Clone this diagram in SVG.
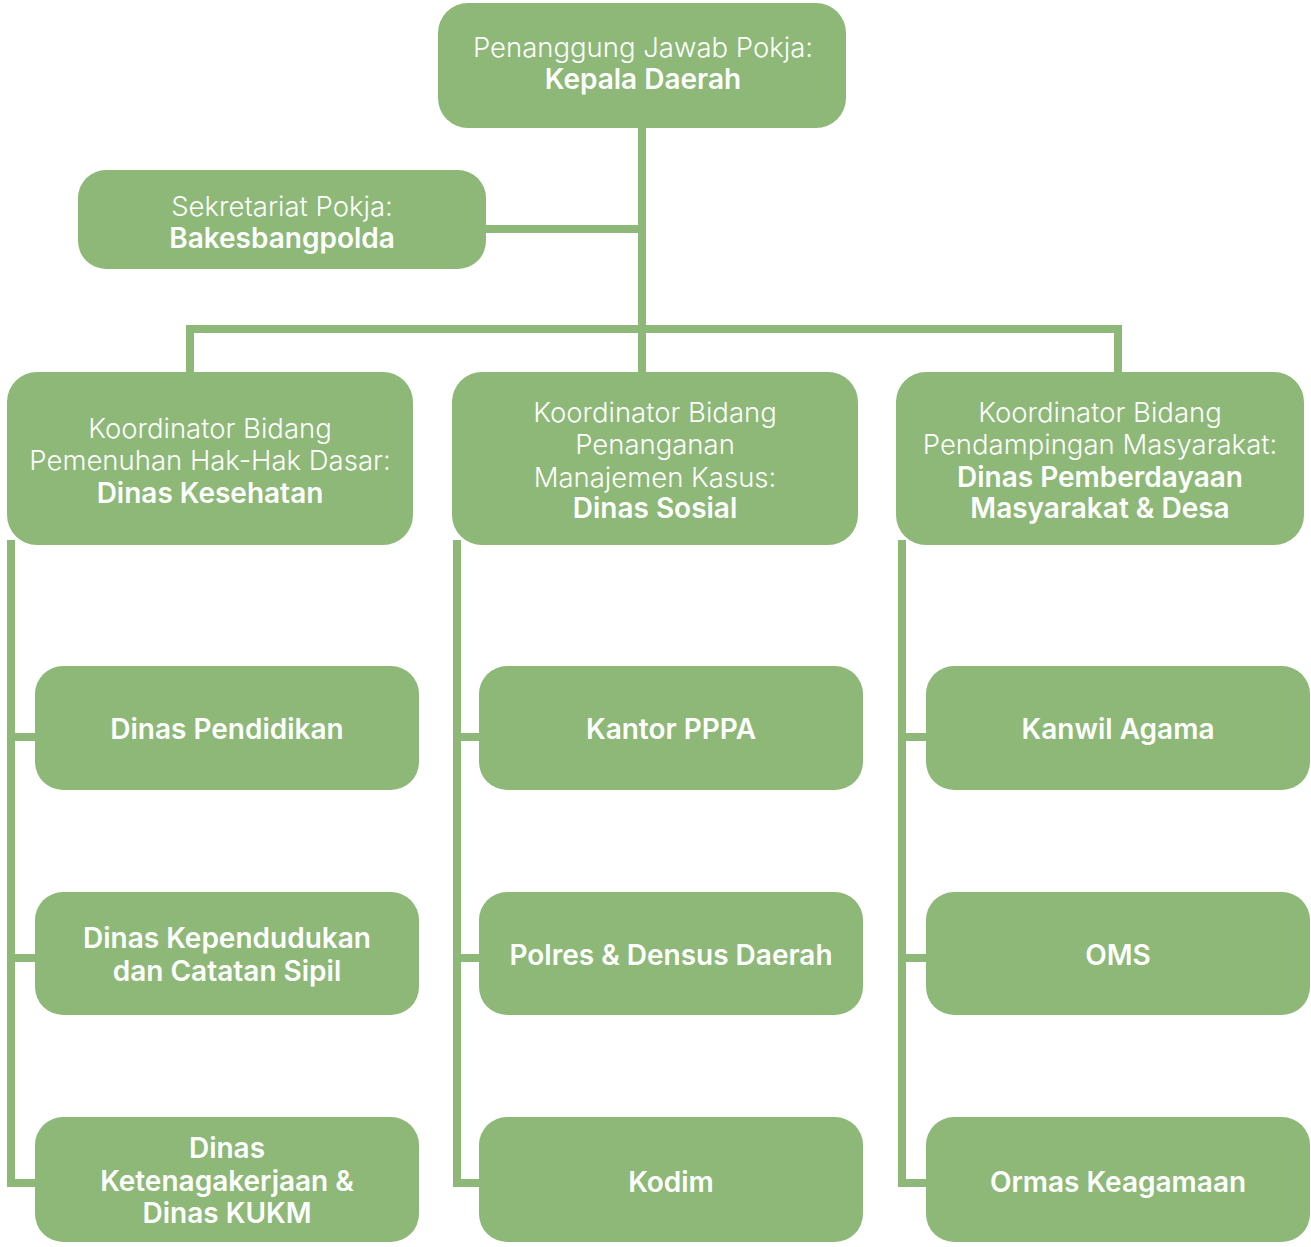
<svg xmlns="http://www.w3.org/2000/svg" width="1311" height="1247" viewBox="0 0 1311 1247">
<style>
.box{fill:#8db878}
.ln{fill:none;stroke:#8db878;stroke-width:8;stroke-linejoin:miter;stroke-linecap:butt}
text{font-family:Inter,"Liberation Sans",sans-serif;fill:#ffffff;text-anchor:middle}
.l{font-weight:300;font-size:27.5px}
.b{font-weight:600;font-size:28px}
</style>
<rect width="1311" height="1247" fill="#ffffff"/>
<g id="connectors">
<path class="ln" d="M642 128 V372"/>
<path class="ln" d="M486 229 H642"/>
<path class="ln" d="M190 372 V329 H1118 V372"/>
<path class="ln" d="M11 540 V1183 H35 M11 737 H35 M11 958 H35"/>
<path class="ln" d="M457 540 V1183 H479 M457 737 H479 M457 958 H479"/>
<path class="ln" d="M902 540 V1183 H926 M902 737 H926 M902 958 H926"/>
</g>
<g id="kepala-daerah">
<rect class="box" x="438" y="3" width="408" height="125" rx="30"/>
<text x="643" y="57" class="l">Penanggung Jawab Pokja:</text>
<text x="643" y="89" class="b">Kepala Daerah</text>
</g>
<g id="sekretariat">
<rect class="box" x="78" y="170" width="408" height="99" rx="28"/>
<text x="282" y="216" class="l">Sekretariat Pokja:</text>
<text x="282" y="248" class="b">Bakesbangpolda</text>
</g>
<g id="koordinator-hak-dasar">
<rect class="box" x="7" y="372" width="406" height="173" rx="30"/>
<text x="210" y="438" class="l">Koordinator Bidang</text>
<text x="210" y="470" class="l">Pemenuhan Hak-Hak Dasar:</text>
<text x="210" y="503" class="b">Dinas Kesehatan</text>
</g>
<g id="koordinator-manajemen-kasus">
<rect class="box" x="452" y="372" width="406" height="173" rx="30"/>
<text x="655" y="422" class="l">Koordinator Bidang</text>
<text x="655" y="454" class="l">Penanganan</text>
<text x="655" y="487" class="l">Manajemen Kasus:</text>
<text x="655" y="518" class="b">Dinas Sosial</text>
</g>
<g id="koordinator-pendampingan">
<rect class="box" x="896" y="372" width="408" height="173" rx="30"/>
<text x="1100" y="422" class="l">Koordinator Bidang</text>
<text x="1100" y="454" class="l">Pendampingan Masyarakat:</text>
<text x="1100" y="487" class="b">Dinas Pemberdayaan</text>
<text x="1100" y="518" class="b">Masyarakat &amp; Desa</text>
</g>
<g id="dinas-pendidikan">
<rect class="box" x="35" y="666" width="384" height="124" rx="28"/>
<text x="227" y="739" class="b">Dinas Pendidikan</text>
</g>
<g id="dinas-kependudukan">
<rect class="box" x="35" y="892" width="384" height="123" rx="28"/>
<text x="227" y="948" class="b">Dinas Kependudukan</text>
<text x="227" y="981" class="b">dan Catatan Sipil</text>
</g>
<g id="dinas-ketenagakerjaan">
<rect class="box" x="35" y="1117" width="384" height="125" rx="28"/>
<text x="227" y="1158" class="b">Dinas</text>
<text x="227" y="1191" class="b">Ketenagakerjaan &amp;</text>
<text x="227" y="1223" class="b">Dinas KUKM</text>
</g>
<g id="kantor-pppa">
<rect class="box" x="479" y="666" width="384" height="124" rx="28"/>
<text x="671" y="739" class="b">Kantor PPPA</text>
</g>
<g id="polres">
<rect class="box" x="479" y="892" width="384" height="123" rx="28"/>
<text x="671" y="965" class="b">Polres &amp; Densus Daerah</text>
</g>
<g id="kodim">
<rect class="box" x="479" y="1117" width="384" height="125" rx="28"/>
<text x="671" y="1192" class="b">Kodim</text>
</g>
<g id="kanwil-agama">
<rect class="box" x="926" y="666" width="384" height="124" rx="28"/>
<text x="1118" y="739" class="b">Kanwil Agama</text>
</g>
<g id="oms">
<rect class="box" x="926" y="892" width="384" height="123" rx="28"/>
<text x="1118" y="965" class="b">OMS</text>
</g>
<g id="ormas-keagamaan">
<rect class="box" x="926" y="1117" width="384" height="125" rx="28"/>
<text x="1118" y="1192" class="b">Ormas Keagamaan</text>
</g>
</svg>
